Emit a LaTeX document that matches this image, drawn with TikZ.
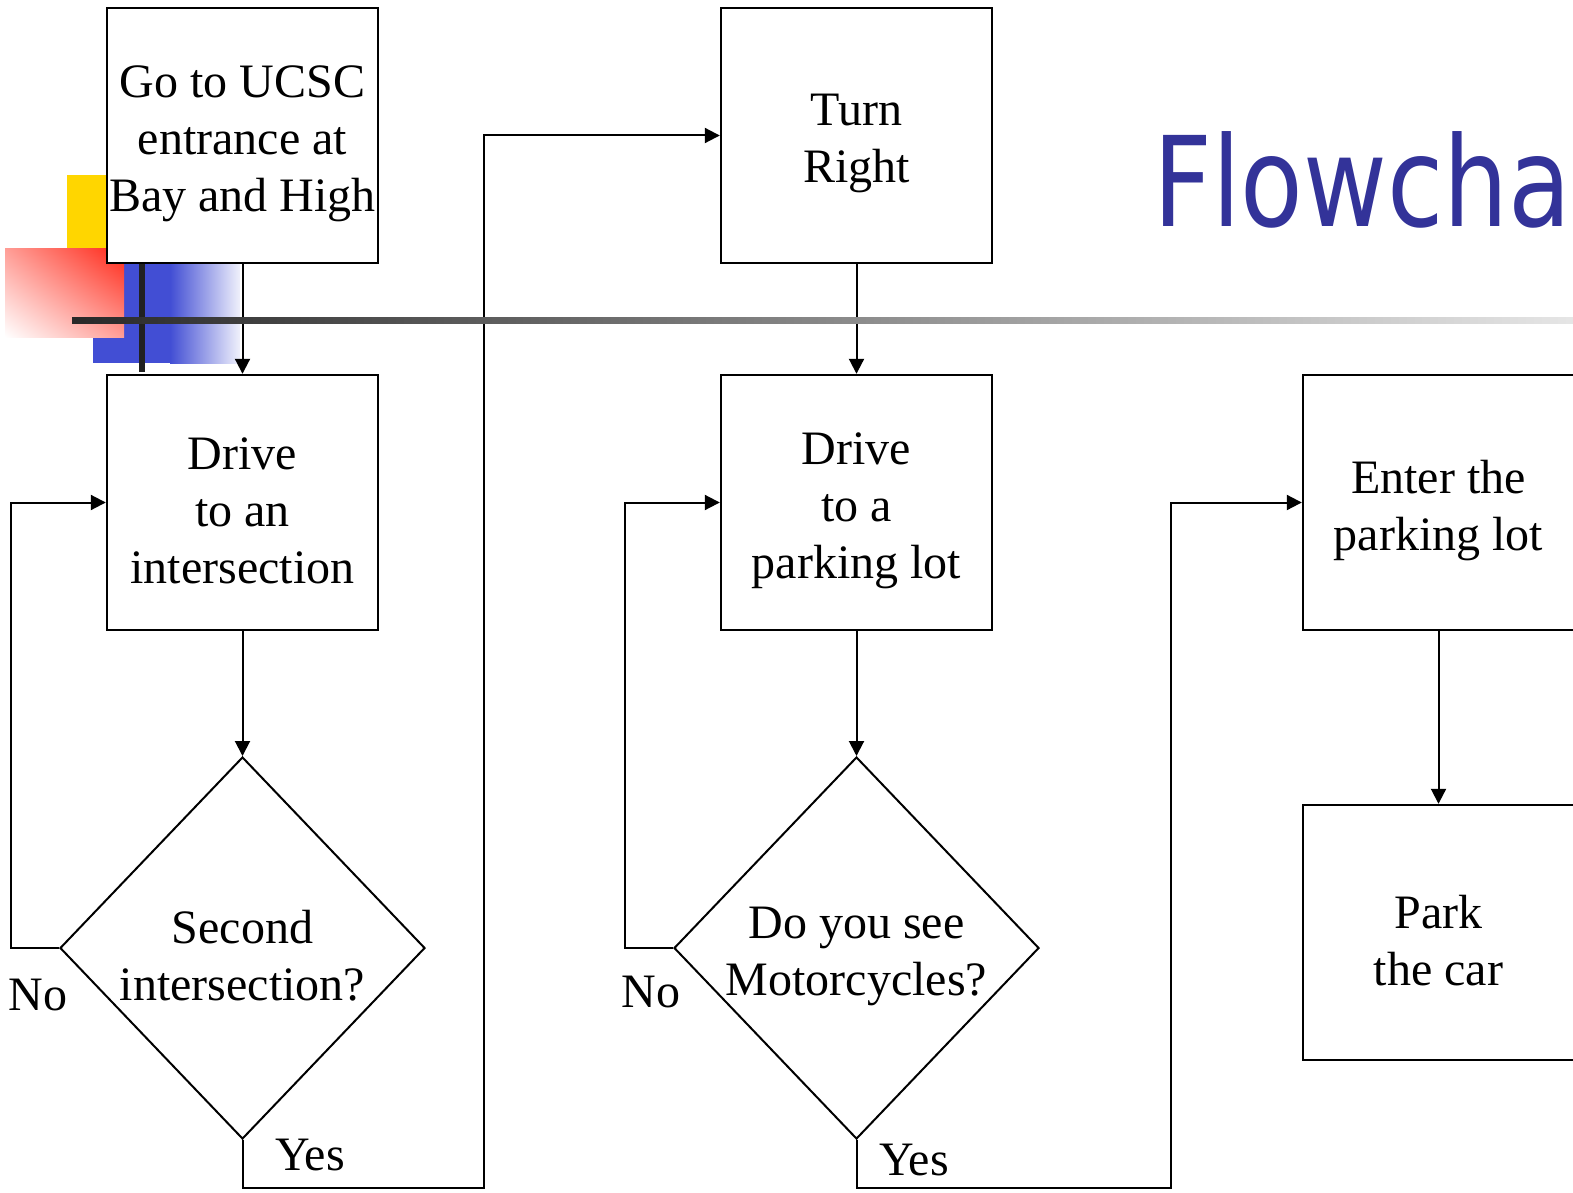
\documentclass[tikz,border=0pt]{standalone}
\usepackage{fontspec}
\setmainfont{Liberation Serif}
\newfontfamily\titlefont{DejaVu Sans}
\usetikzlibrary{arrows.meta,shapes.geometric,shadings}

\definecolor{decoyellow}{RGB}{255,214,0}
\definecolor{decored}{RGB}{255,38,22}
\definecolor{decoblue}{RGB}{66,78,212}
\definecolor{titleblue}{RGB}{51,51,153}

\tikzset{
  stepbox/.style={draw, line width=2.4pt, fill=white, minimum width=271pt,
    minimum height=255pt, inner sep=0pt},
  decision/.style={draw, diamond, line width=2pt, fill=white,
    minimum width=365pt, minimum height=382pt, inner sep=0pt},
  steptext/.style={align=center, inner sep=0pt, yshift=-8pt,
    font=\fontsize{48}{57}\selectfont},
  tag/.style={inner sep=0pt, font=\fontsize{48}{57}\selectfont},
  flow/.style={line width=2pt, -{Triangle[length=15pt,width=15pt]}},
}

\begin{document}
\begin{tikzpicture}[x=1pt, y=-1pt]
\useasboundingbox (0,0) rectangle (1573,1193);
\clip (0,0) rectangle (1573,1193);
\fill[white] (0,0) rectangle (1573,1193);

% corner ornament of the slide template
\fill[decoyellow] (67,175) rectangle (155,263);
\fill[decoblue] (93,263) rectangle (171,363);
\shade[left color=decoblue, right color=decoblue!8!white] (170,263) rectangle (240,363);
\shade[upper right=decored, upper left=decored!45!white,
       lower right=decored!45!white, lower left=white] (5,248) rectangle (124,337);
\fill[black!87] (139,263) rectangle (145,372);

% title
\node[anchor=base west, inner sep=0pt, text=titleblue, xscale=0.82]
  (title) at (1153,226) {\titlefont\fontsize{125}{130}\selectfont Flowcha};

% process boxes
\node[stepbox] (start) at (242.5,135.5) {};
\node[steptext] (startt) at (start.center) {Go to UCSC\\entrance at\\Bay and High};
\node[stepbox] (drive1) at (242.5,502.5) {};
\node[steptext] (drive1t) at (drive1.center) {Drive\\to an\\intersection};
\node[stepbox] (turn) at (856.5,135.5) {};
\node[steptext] (turnt) at (turn.center) {Turn\\Right};
\node[stepbox] (drive2) at (856.5,502.5) {};
\node[steptext] (drive2t) at (drive2.center) {Drive\\to a\\parking lot};
\node[stepbox] (enter) at (1438.5,502.5) {};
\node[steptext] (entert) at (enter.center) {Enter the\\parking lot};
\node[stepbox] (park) at (1438.5,932.5) {};
\node[steptext] (parkt) at (park.center) {Park\\the car};

% decisions
\node[decision] (q1) at (242.5,948) {};
\node[steptext] (q1t) at (q1.center) {Second\\intersection?};
\node[decision] (q2) at (856.5,948) {};
\node[steptext] (q2t) at (q2.center) {Do you see\\Motorcycles?};

% bend points of the connectors
\coordinate (l1) at (11,948);
\coordinate (l1u) at (11,502.5);
\coordinate (y1) at (242.5,1188);
\coordinate (y1r) at (484,1188);
\coordinate (y1u) at (484,135.5);
\coordinate (l2) at (625,948);
\coordinate (l2u) at (625,502.5);
\coordinate (y2) at (856.5,1188);
\coordinate (y2r) at (1171,1188);
\coordinate (y2u) at (1171,502.5);

% connectors
\draw[flow] (start.south) -- (drive1.north);
\draw[flow] (drive1.south) -- (q1.north);
\draw[flow] (q1.west) -- (l1) -- (l1u) -- (drive1.west);
\draw[flow] (q1.south) -- (y1) -- (y1r) -- (y1u) -- (turn.west);
\draw[flow] (turn.south) -- (drive2.north);
\draw[flow] (drive2.south) -- (q2.north);
\draw[flow] (q2.west) -- (l2) -- (l2u) -- (drive2.west);
\draw[flow] (q2.south) -- (y2) -- (y2r) -- (y2u) -- (enter.west);
\draw[flow] (enter.south) -- (park.north);

% branch labels
\node[tag] (no1) at (38,995) {No};
\node[tag] (yes1) at (310,1155) {Yes};
\node[tag] (no2) at (651,992) {No};
\node[tag] (yes2) at (914,1160) {Yes};

% horizontal rule of the template
\shade[left color=black!84, right color=black!10] (72,317) rectangle (1573,323);
\end{tikzpicture}
\end{document}
